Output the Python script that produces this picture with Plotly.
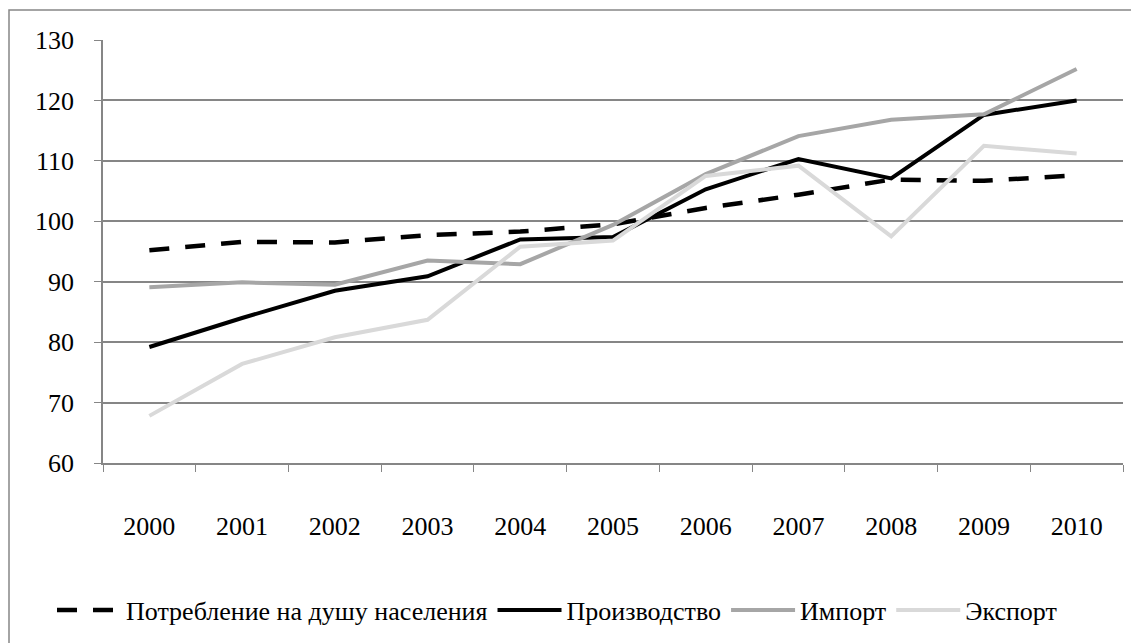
import plotly.graph_objects as go

years = ["2000", "2001", "2002", "2003", "2004", "2005", "2006", "2007", "2008", "2009", "2010"]
consumption = [95.2, 96.6, 96.5, 97.7, 98.3, 99.5, 102.2, 104.4, 106.9, 106.7, 107.6]
production = [79.2, 84.0, 88.5, 90.9, 97.0, 97.4, 105.3, 110.3, 107.1, 117.6, 120.0]
imports = [89.1, 89.9, 89.5, 93.5, 92.9, 99.4, 107.8, 114.1, 116.8, 117.7, 125.2]
exports = [67.8, 76.4, 80.8, 83.7, 95.8, 96.8, 107.5, 109.2, 97.5, 112.5, 111.2]

names = ["Потребление на душу населения", "Производство", "Импорт", "Экспорт"]
y_ticks = [60, 70, 80, 90, 100, 110, 120, 130]

FONT = "Liberation Serif"
FS = 26

fig = go.Figure()
fig.add_trace(go.Scatter(x=years, y=consumption, name=names[0], mode="lines",
                         line=dict(color="#000000", width=4.5, dash="20px,16px")))
fig.add_trace(go.Scatter(x=years, y=production, name=names[1], mode="lines",
                         line=dict(color="#000000", width=4)))
fig.add_trace(go.Scatter(x=years, y=imports, name=names[2], mode="lines",
                         line=dict(color="#a6a6a6", width=4)))
fig.add_trace(go.Scatter(x=years, y=exports, name=names[3], mode="lines",
                         line=dict(color="#d9d9d9", width=4)))

# page has an 8px body margin; figure placed at (8,8)
OFF = 8
W, H = 1139 - OFF, 643 - OFF
L, T = 103 - OFF, 40 - OFF
R = W - (1123 - OFF)
B = H - (463 - OFF)
pw, ph = W - L - R, H - T - B

def px_x(x):
    return (x - OFF - L) / pw

def px_y(y):
    return (T + ph - (y - OFF)) / ph

fig.update_layout(
    width=W, height=H,
    margin=dict(l=L, r=R, t=T, b=B, autoexpand=False),
    paper_bgcolor="white", plot_bgcolor="white",
    font=dict(family=FONT, size=FS, color="#000000"),
    showlegend=True,
    legend=dict(orientation="h", x=px_x(52), xanchor="left", y=px_y(610), yanchor="middle",
                font=dict(family=FONT, size=FS, color="#000000"), tracegroupgap=0,
                itemwidth=64),
    xaxis=dict(type="category", range=[-0.5, 10.5], tickson="boundaries", ticks="outside", ticklen=7,
               tickcolor="#868686", showgrid=False, showline=True, linecolor="#868686",
               linewidth=1.5, zeroline=False,
               tickfont=dict(family=FONT, size=FS, color="#000000"), ticklabelstandoff=39),
    yaxis=dict(range=[60, 130], tickvals=y_ticks, ticks="outside", ticklen=7,
               tickcolor="#868686", showgrid=True, gridcolor="#868686", gridwidth=1.5,
               showline=True, linecolor="#868686", linewidth=1.5, zeroline=False,
               tickfont=dict(family=FONT, size=FS, color="#000000"), ticklabelstandoff=15),
)

# outer chart border (only left and top edges are visible in the frame)
fig.add_shape(type="rect", xref="paper", yref="paper",
              x0=px_x(9), x1=px_x(1180), y0=px_y(700), y1=px_y(10),
              line=dict(color="#868686", width=1.5), fillcolor="rgba(0,0,0,0)", layer="below")

fig.write_html("out.html")
